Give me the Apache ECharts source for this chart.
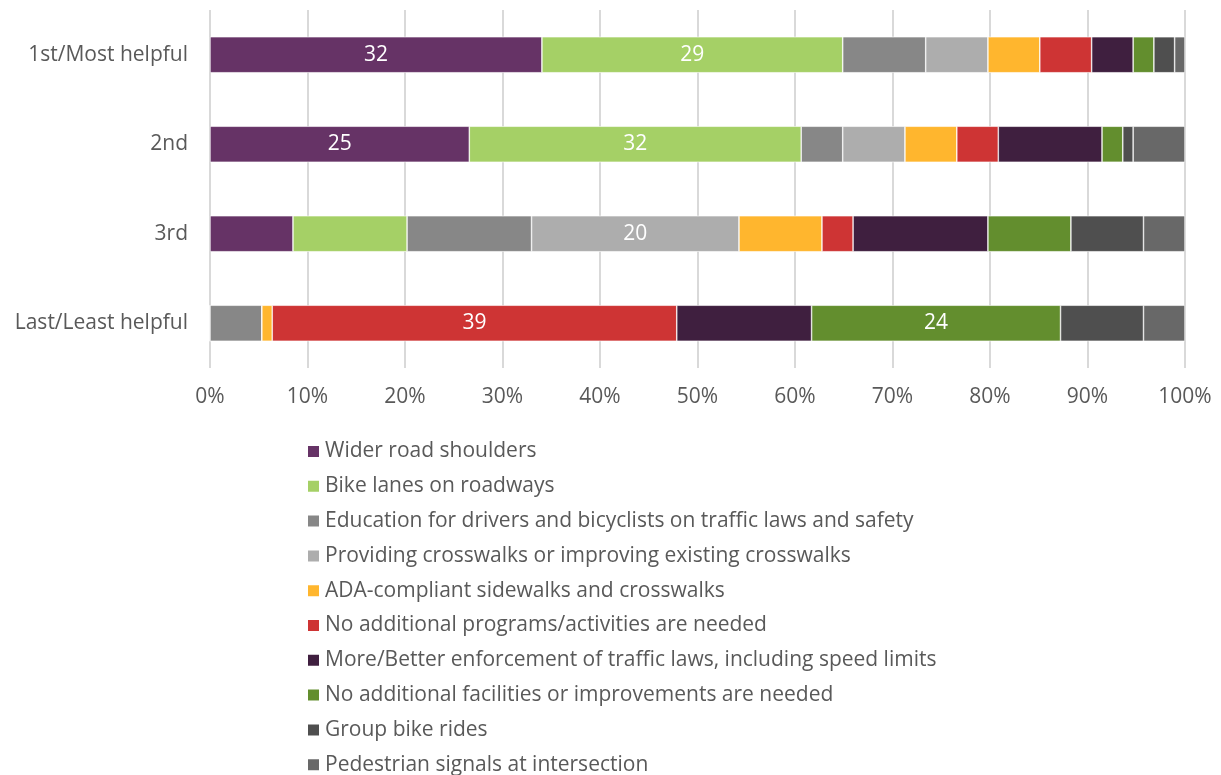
<!DOCTYPE html>
<html>
<head>
<meta charset="utf-8">
<script src="https://cdn.jsdelivr.net/npm/echarts@6/dist/echarts.min.js"></script>
<style>
  html, body { margin: 0; padding: 0; background: #ffffff; }
  #chart { width: 1221px; height: 775px; }
</style>
</head>
<body>
<div id="chart"></div>
<script>
const categories = ['1st/Most helpful', '2nd', '3rd', 'Last/Least helpful'];
const seriesNames = [
  'Wider road shoulders',
  'Bike lanes on roadways',
  'Education for drivers and bicyclists on traffic laws and safety',
  'Providing crosswalks or improving existing crosswalks',
  'ADA-compliant sidewalks and crosswalks',
  'No additional programs/activities are needed',
  'More/Better enforcement of traffic laws, including speed limits',
  'No additional facilities or improvements are needed',
  'Group bike rides',
  'Pedestrian signals at intersection'
];
// counts per series, in category order
const widerShoulders   = [32, 25, 8, 0];
const bikeLanes        = [29, 32, 11, 0];
const education        = [8, 4, 12, 5];
const crosswalks       = [6, 6, 20, 0];
const adaSidewalks     = [5, 5, 8, 1];
const noPrograms       = [5, 4, 3, 39];
const enforcement      = [4, 10, 13, 13];
const noFacilities     = [2, 2, 8, 24];
const groupRides       = [2, 1, 7, 8];
const pedSignals       = [1, 5, 4, 4];
const xTickLabels = ['0%', '10%', '20%', '30%', '40%', '50%', '60%', '70%', '80%', '90%', '100%'];

const seriesCounts = [widerShoulders, bikeLanes, education, crosswalks, adaSidewalks,
  noPrograms, enforcement, noFacilities, groupRides, pedSignals];
const colors = ['#663366', '#A5D066', '#878787', '#ADADAD', '#FFB62E',
  '#CE3434', '#3F1F3F', '#638E2E', '#4F4F4F', '#686868'];

const totals = categories.map((c, i) => seriesCounts.reduce((s, arr) => s + arr[i], 0));

const FONT = 'Open Sans';
const chart = echarts.init(document.getElementById('chart'), null, { renderer: 'canvas' });

const series = seriesNames.map((name, si) => ({
  name: name,
  type: 'bar',
  stack: 'total',
  barWidth: 36,
  itemStyle: { color: colors[si], borderColor: '#ffffff', borderWidth: 0.6 },
  label: {
    show: true,
    position: 'inside',
    color: '#ffffff',
    fontFamily: FONT,
    fontSize: 21,
    formatter: p => String(seriesCounts[si][p.dataIndex])
  },
  emphasis: { disabled: true },
  data: seriesCounts[si].map((v, ci) => ({
    value: v / totals[ci] * 100,
    label: { show: v >= 20 }
  }))
}));

chart.setOption({
  animation: false,
  color: colors,
  grid: { left: 210, right: 36, top: 10, height: 358, containLabel: false },
  xAxis: {
    type: 'value',
    min: 0, max: 100, interval: 10,
    axisLine: { show: false },
    axisTick: { show: false },
    splitLine: { show: true, lineStyle: { color: '#D9D9D9', width: 2 } },
    axisLabel: {
      margin: 19,
      color: '#595959',
      fontFamily: FONT,
      fontSize: 21,
      formatter: (v) => xTickLabels[Math.round(v / 10)]
    }
  },
  yAxis: {
    type: 'category',
    data: categories,
    inverse: true,
    axisLine: { show: false },
    axisTick: { show: false },
    axisLabel: { margin: 22, color: '#595959', fontFamily: FONT, fontSize: 21 }
  },
  legend: {
    orient: 'vertical',
    left: 306,
    top: 441,
    height: 400,
    padding: 0,
    itemWidth: 13,
    itemHeight: 13,
    itemGap: 13.8,
    icon: 'rect',
    textStyle: { color: '#595959', fontFamily: FONT, fontSize: 21, lineHeight: 21 },
    data: seriesNames
  },
  series: series
});
</script>
</body>
</html>
